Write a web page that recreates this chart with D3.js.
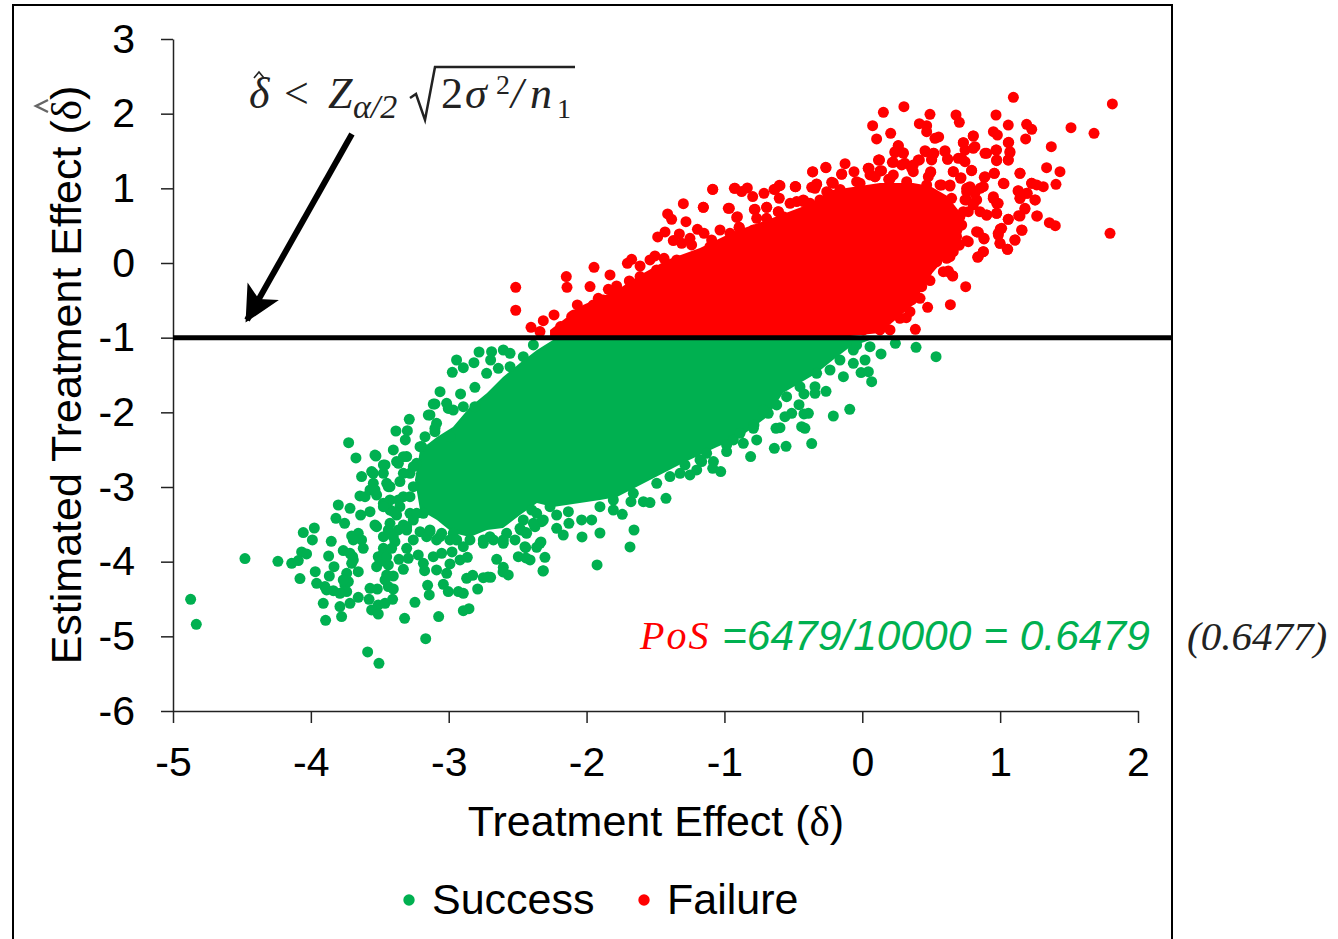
<!DOCTYPE html>
<html>
<head>
<meta charset="utf-8">
<script src="https://cdn.jsdelivr.net/npm/d3@7"></script>
<style>
  html, body { margin: 0; padding: 0; background: #fff; }
  svg { display: block; }
  .axis text { font-family: "Liberation Sans", sans-serif; font-size: 41px; fill: #000; }
  .axis path, .axis line { stroke: #222; stroke-width: 1.5px; }
  .label { font-family: "Liberation Sans", sans-serif; font-size: 43px; fill: #000; }
</style>
</head>
<body>
<svg></svg>
<script>
const svg_width = 1338;
const svg_height = 939;
const margin = { top: 39, right: 200, bottom: 228, left: 173 };

const xTicks = [-5, -4, -3, -2, -1, 0, 1, 2];
const yTicks = [3, 2, 1, 0, -1, -2, -3, -4, -5, -6];
const threshold = -1;

// single points that can still be told apart as [delta, estimate]
const successPoints = [
  [-4.872,-4.504],[-4.831,-4.839],[-4.478,-3.959],[-4.239,-3.995],[-4.139,-4.022],[-4.079,-4.227],[-4.055,-3.611],[-3.975,-3.549],
  [-3.989,-3.709],[-4.067,-3.870],[-4.031,-3.897],[-4.091,-3.986],[-3.852,-3.727],[-3.871,-3.924],[-3.832,-4.067],[-3.968,-4.134],
  [-3.866,-4.192],[-3.958,-4.290],[-3.898,-4.334],[-3.837,-4.388],[-3.910,-4.558],[-3.893,-4.785],[-3.789,-4.602],[-3.777,-4.736],
  [-3.753,-4.312],[-3.740,-4.401],[-3.728,-4.267],[-3.740,-4.156],[-3.656,-4.134],[-3.704,-4.022],[-3.697,-3.933],[-3.765,-3.852],
  [-3.620,-3.821],[-3.632,-3.709],[-3.704,-3.656],[-3.656,-3.620],[-3.801,-3.241],[-3.818,-3.419],[-3.755,-3.486],[-3.716,-3.285],
  [-3.639,-3.375],[-3.571,-3.330],[-3.644,-3.120],[-3.607,-3.129],[-3.726,-2.406],[-3.673,-2.611],[-3.632,-2.861],[-3.559,-2.794],
  [-3.528,-2.585],[-3.462,-2.705],[-3.474,-2.817],[-3.547,-2.951],[-3.523,-3.107],[-3.535,-3.509],[-3.474,-3.665],[-3.438,-3.575],
  [-3.366,-3.575],[-3.390,-3.732],[-3.474,-3.821],[-3.511,-3.933],[-3.523,-4.067],[-3.438,-4.044],[-3.450,-4.178],[-3.402,-4.192],
  [-3.438,-4.334],[-3.402,-4.366],[-3.571,-4.357],[-3.518,-4.366],[-3.656,-4.477],[-3.716,-4.558],[-3.578,-4.504],[-3.511,-4.580],
  [-3.462,-4.558],[-3.407,-4.504],[-3.559,-4.647],[-3.511,-4.701],[-3.320,-4.759],[-3.245,-4.544],[-3.073,-4.736],[-3.167,-5.031],
  [-3.588,-5.209],[-3.506,-5.361],[-2.894,-4.656],[-2.853,-4.629],[-3.153,-4.317],[-3.141,-4.446],[-3.039,-4.303],[-3.003,-4.401],
  [-2.930,-4.401],[-2.894,-4.424],[-2.790,-4.366],[-2.870,-4.223],[-2.826,-4.183],[-2.749,-4.214],[-2.696,-4.210],[-3.329,-4.102],
  [-3.361,-3.968],[-3.293,-3.955],[-3.305,-3.821],[-3.221,-3.910],[-3.175,-4.120],[-3.088,-4.111],[-3.112,-3.933],[-3.051,-3.888],
  [-2.976,-3.870],[-2.991,-4.031],[-3.015,-4.156],[-2.918,-3.977],[-2.865,-3.942],[-2.652,-3.968],[-2.604,-4.076],[-2.568,-4.178],
  [-2.495,-3.933],[-2.442,-3.812],[-2.440,-3.950],[-2.478,-3.575],[-2.439,-3.611],[-2.519,-3.709],[-2.604,-3.754],[-2.331,-3.736],
  [-2.362,-3.808],[-2.302,-3.942],[-2.314,-4.120],[-2.169,-3.643],[-2.217,-3.553],[-2.128,-3.486],[-2.326,-3.464],[-2.374,-3.531],
  [-3.286,-2.093],[-3.383,-2.250],[-3.300,-2.245],[-3.315,-2.370],[-3.402,-2.504],[-3.305,-2.593],[-3.378,-2.660],[-3.136,-2.035],
  [-3.100,-1.888],[-3.063,-1.723],[-2.914,-1.754],[-2.974,-1.464],[-2.894,-1.402],[-2.943,-1.299],[-2.817,-1.335],[-2.780,-1.192],
  [-2.689,-1.187],[-2.696,-1.299],[-2.604,-1.165],[-2.555,-1.210],[-2.725,-1.477],[-2.810,-1.665],[-3.100,-2.259],[-3.172,-2.326],
  [-3.426,-2.995],[-3.354,-2.928],[-3.281,-2.817],[-3.233,-2.683],[-3.196,-2.459],[-3.329,-3.129],[-3.426,-3.308],[-3.378,-3.375],
  [-3.257,-3.442],[-3.305,-3.531],[-3.208,-3.598],[-3.136,-3.598],[-3.257,-3.709],[-3.063,-3.665],[-2.967,-3.620],[-2.894,-3.799],
  [-2.749,-3.754],[-2.676,-3.709],[-3.015,-1.879],[-2.967,-1.969],[-3.088,-2.147],[-2.991,-2.326],[-2.894,-1.924],[-2.810,-1.924],
  [-2.640,-1.410],[-2.555,-1.388],[-2.459,-1.254],[-2.386,-1.098],
  [0.535,-1.254],[0.390,-1.129],[0.240,-1.076],[0.136,-1.218],[0.068,-1.589],[0.044,-1.455],[-0.009,-1.468],[0.020,-1.299],
  [0.056,-1.120],[-0.041,-1.098],[-0.065,-1.343],[-0.137,-1.522],[-0.091,-1.959],[-0.210,-2.049],[-0.263,-1.718],[-0.343,-1.656],
  [-0.343,-1.745],[-0.423,-1.754],[-0.459,-1.897],[-0.391,-2.013],[-0.423,-2.022],[-0.512,-2.013],[-0.561,-2.058],[-0.440,-2.192],
  [-0.416,-2.214],[-0.367,-2.419],[-0.553,-2.455],[-0.638,-2.482],[-0.597,-2.205],[-0.626,-2.214],[-0.810,-2.593],[-0.766,-2.370],
  [-0.786,-2.169],[-0.682,-2.013],[-0.863,-2.415],[-0.984,-2.526],[-1.080,-2.660],[-1.085,-2.750],[-1.027,-2.794],[-1.165,-2.660],
  [-1.201,-2.772],[-1.250,-2.839],[-1.286,-2.705],[-1.424,-3.151],[-1.540,-3.209],[-1.588,-3.196],[-1.678,-3.196],[-1.806,-3.308],
  [-1.741,-3.366],[-1.963,-3.441],[-2.036,-3.441],[-2.132,-3.330],[-2.217,-3.375],[-2.398,-3.308],[-1.685,-3.803],[-1.656,-3.576],
  [-1.903,-3.616],[-2.033,-3.669],[-1.924,-4.044],[-2.316,-4.125],[-2.410,-3.977],[-2.606,-4.138],[-2.715,-4.205],
  [-1.903,-3.263],[-1.806,-3.174],[-1.661,-3.084],[-1.491,-2.950],[-1.395,-2.861],[-1.322,-2.817],[-1.177,-2.638],[-1.129,-2.549],
  [-0.984,-2.437],[-0.935,-2.370],[-0.887,-2.281],[-0.790,-2.214],[-0.718,-1.968],[-0.621,-1.901],[-0.549,-1.790],[-0.452,-1.656],
  [-0.331,-1.477],[-0.234,-1.433],[-0.162,-1.299],[-0.065,-1.165],[-3.474,-3.888],[-3.499,-4.000],[-3.450,-3.933],[-3.414,-3.821],
  [-3.402,-3.665],[-3.329,-3.509],[-3.281,-3.352],[-3.354,-3.263],[-3.426,-3.174],[-3.474,-3.218],[-3.571,-3.040],[-3.450,-2.951],
  [-3.329,-2.817],[-3.257,-2.995],[-3.184,-3.352],[-3.160,-3.665],[-3.088,-3.709],[-2.991,-3.709],[-2.846,-3.709],[-2.701,-3.665],
  [-2.580,-3.620],[-2.459,-3.442],[-2.362,-3.352],[-2.265,-3.263],[-3.692,-3.709],[-3.716,-3.888],[-3.692,-3.977],[-3.765,-4.245],
  [-3.789,-4.424],[-3.886,-4.379],[-3.462,-4.245],[-3.184,-4.022],
  [-3.535,-2.572],[-3.474,-2.705],[-3.329,-2.594],[-3.365,-2.683],[-3.148,-2.036],[-3.112,-1.889],[-3.003,-1.947],[-3.100,-2.214],
  [-3.208,-2.460],[-3.257,-2.728],[-3.547,-2.817],[-3.535,-3.040],[-3.474,-3.263],[-3.402,-3.330],[-3.365,-3.174],[-3.438,-2.996],
  [-3.281,-3.130],[-3.232,-3.353],[-3.305,-3.576],[-3.426,-3.487],[-3.523,-3.531],[-3.136,-3.576],[-3.051,-3.621],[-2.942,-3.710],
  [-2.749,-3.710],[-2.604,-3.710],[-2.483,-3.554],[-2.435,-3.621],[-2.447,-3.799],[-2.338,-3.755],[-2.386,-3.487],[-2.314,-3.442]
];

const failurePoints = [
  [-2.514,-0.325],[-2.514,-0.633],[-2.403,-0.861],[-2.314,-0.772],[-2.236,-0.696],[-2.338,-0.919],[-2.188,-0.852],[-2.147,-0.182],
  [-2.142,-0.325],[-1.975,-0.316],[-1.946,-0.058],[-1.830,-0.160],[-2.067,-0.562],[-2.091,-0.696],[-2.036,-0.651],[-1.951,-0.562],
  [-1.915,-0.473],[-1.854,-0.540],[-1.842,-0.352],[-1.782,-0.308],[-1.794,-0.415],[-1.709,-0.406],[-1.690,-0.241],[-1.704,-0.004],
  [-1.673,0.050],[-1.612,-0.040],[-1.612,-0.182],[-1.540,0.041],[-1.504,0.094],[-1.438,0.063],[-1.484,0.349],[-1.431,0.416],
  [-1.412,0.657],[-1.383,0.585],[-1.298,0.795],[-1.279,0.554],[-1.327,0.389],[-1.371,0.300],[-1.310,0.264],[-1.250,0.331],
  [-1.238,0.242],[-1.153,0.746],[-1.196,0.451],[-1.148,0.398],[-1.093,0.309],[-1.105,0.219],[-1.177,0.108],[-1.085,0.987],
  [-0.972,0.733],[-0.923,1.000],[-0.875,0.956],[-0.834,1.005],[-0.795,0.889],[-0.713,0.933],[-0.778,0.719],[-0.694,0.746],
  [-0.906,0.621],[-0.892,0.478],[-1.032,0.442],[-0.960,0.398],[-0.766,0.599],[-0.633,0.987],[-0.602,1.041],[-0.602,0.867],
  [-0.486,1.023],[-0.609,0.688],[-0.524,0.800],[-0.428,0.822],[-0.360,1.219],[-0.343,1.023],[-0.210,1.067],[-0.246,0.934],
  [1.096,2.219],[1.814,2.130],[1.797,0.397],[1.514,1.813],[1.681,1.737],[0.302,2.094],[0.153,2.018],[0.075,1.839],
  [0.104,1.661],[0.206,1.737],[0.414,1.866],[0.491,1.991],[0.467,1.839],[0.467,1.759],[0.527,1.670],[0.554,1.688],
  [0.680,1.982],[0.704,1.884],[0.805,1.701],[0.733,1.612],[0.970,1.982],[1.059,1.848],[0.951,1.759],[0.980,1.714],
  [1.192,1.857],[1.229,1.790],[1.185,1.661],[1.062,1.616],[1.371,1.558],[1.071,1.491],[1.059,1.380],[0.975,1.380],
  [0.970,1.513],[0.902,1.469],[0.805,1.536],[0.721,1.402],[0.600,1.505],[0.619,1.393],[0.515,1.469],[0.455,1.505],
  [0.503,1.380],[0.261,1.572],[0.237,1.491],[0.298,1.469],[0.124,1.380],[0.225,1.348],[0.414,1.380],[-0.125,1.330],
  [-0.263,1.277],[-0.360,1.223],[-0.486,1.022],[-0.597,1.036],[-0.331,1.054],[-0.222,1.080],[-0.150,1.188],[-0.060,1.223],
  [0.049,1.268],[0.128,1.232],[0.191,1.121],[0.358,1.268],[0.496,1.214],[0.660,1.223],[0.716,1.143],[0.793,1.241],
  [0.890,1.156],[0.958,1.201],[1.144,1.201],[1.337,1.277],[1.434,1.223],[1.405,1.054],[1.028,1.063],[1.229,1.067],
  [1.313,1.022],[1.265,1.045],[1.130,0.964],[1.197,0.933],[1.144,0.866],[1.255,0.844],[1.180,0.723],[1.134,0.634],
  [1.270,0.630],[1.059,0.585],[1.357,0.540],[1.400,0.500],[1.159,0.438],[1.001,0.456],[0.987,0.375],[1.108,0.308],
  [0.999,0.264],[1.055,0.183],[0.878,0.152],[0.837,0.076],[0.883,0.322],[0.842,0.411],[0.902,0.643],[0.975,0.665],
  [0.975,0.799],[0.951,0.888],[0.854,1.000],[0.781,1.022],[0.757,0.844],[0.830,0.844],[0.769,0.286],[0.697,0.241],
  [0.624,-0.107],[0.656,-0.174],[0.750,-0.317],[0.639,-0.558],[0.474,-0.594],[0.319,-0.732],[0.385,-0.888],[0.491,-0.236],
  [0.431,-0.317],[0.358,-0.495],[0.201,-0.897],[0.588,-0.116],[0.636,0.197],
  [-2.108,-0.718],[-2.023,-0.718],[-1.878,-0.495],[-1.758,-0.428],[-1.564,-0.227],[-1.492,-0.093],[-1.419,-0.049],[-1.346,0.041],
  [-1.274,0.041],[-1.201,0.085],[-1.129,0.130],[-1.056,0.152],[-0.984,0.264],[-0.935,0.353],[-0.863,0.398],[-0.790,0.442],
  [-0.694,0.599],[-0.573,0.621],[-0.452,0.643],[-0.379,0.800],[-0.307,0.844],[-0.331,0.666],[-0.476,0.822],[-0.428,0.844],
  [-0.343,1.000],[-0.258,0.955],[-0.162,0.955],[-0.041,1.089],[0.056,1.179],[0.225,1.179],[0.286,1.313],[0.370,1.313],
  [0.322,1.089],[0.467,1.045],[0.564,1.045],[0.636,1.045],[0.648,0.866],[0.733,0.688],[0.757,0.955],[0.854,0.688],
  [0.660,0.598],[0.721,0.509],[0.612,0.420],[0.660,0.152],[0.540,0.018],[0.467,-0.116],[0.612,0.063],[0.419,-0.473],
  [0.346,-0.652],[0.273,-0.741],[0.128,-0.897],[0.008,-0.897],[-0.065,-0.830],
  [0.261,1.567],[0.237,1.477],[0.297,1.477],[0.218,1.348],[0.123,1.379],[0.043,1.268],[0.140,1.236],[0.092,1.156],
  [0.201,1.125],[0.309,1.335],[0.406,1.379],[0.370,1.223],[0.496,1.223],[0.479,1.156],[0.459,1.491],[0.520,1.469],
  [0.503,1.388],[0.600,1.491],[0.619,1.388],[0.733,1.611],[0.805,1.701],[0.817,1.558],[0.745,1.513],[0.696,1.402],
  [0.745,1.357],[0.660,1.223],[0.713,1.134],[0.793,1.236],[0.890,1.469],[0.974,1.513],[1.059,1.611],[1.071,1.477],
  [1.059,1.379],[0.974,1.370],[0.957,1.201],[0.885,1.147],[1.144,1.201],[1.023,1.067],[0.575,1.044],[0.636,1.031],
  [0.757,1.000],[0.878,1.022],[0.817,0.933],[0.745,0.844],[0.950,0.866],[0.986,0.799],[0.805,0.777],[0.902,0.643],
  [0.974,0.665],[0.769,0.687],[0.708,0.620],[1.132,0.969],[1.228,1.067],[1.192,0.933],[1.144,0.866],[1.252,0.844],
  [1.180,0.732],[1.144,0.629],[1.059,0.585],[1.265,0.629],[1.011,0.464],[0.986,0.397],[1.156,0.442],[0.999,0.263],
  [1.107,0.308],[1.052,0.183],[0.829,0.419],[0.883,0.330],[0.841,0.085],[0.878,0.152],[0.757,0.299],[0.704,0.241],
  [0.624,-0.116],[0.655,-0.170],[0.636,0.085],[0.684,0.352],
  [-1.085,0.986],[-1.153,0.745],[-0.928,1.000],[-0.964,0.732],[-0.911,0.611],[-0.894,0.477],[-0.783,0.718],[-0.693,0.745],
  [-0.640,0.986],[-0.609,0.687],[-0.483,1.022],[-0.423,0.834],[-0.265,1.281],[-0.149,1.192],[0.044,1.267],[0.117,1.379],
  [-0.367,1.013],[-0.331,1.058],[-0.215,1.076],[-0.161,0.986],[-0.016,1.067],[0.093,1.156],[-0.065,0.933]
];

// the centre of each cloud is solid colour, single points cannot be read there,
// so only its outer edge is kept: [delta, lower estimate, upper estimate]
const successCore = [
  [-3.245,-2.906,-2.906],[-3.208,-3.308,-2.504],[-3.085,-3.442,-2.330],[-2.969,-3.616,-2.196],[-2.846,-3.669,-1.928],
  [-2.722,-3.576,-1.741],[-2.606,-3.549,-1.527],[-2.483,-3.375,-1.339],[-2.360,-3.214,-1.165],[-2.244,-3.268,-1.031],
  [-1.903,-3.174,-1.031],[-1.779,-3.134,-1.031],[-1.540,-2.906,-1.031],[-1.301,-2.678,-1.031],[-1.054,-2.464,-1.031],
  [-0.887,-2.330,-1.031],[-0.691,-2.062,-1.031],[-0.575,-1.741,-1.031],[-0.329,-1.473,-1.031],[-0.213,-1.299,-1.031],
  [-0.089,-1.125,-1.031],[0.056,-1.031,-1.031]
];
const failureCore = [
  [-2.265,-1,-0.897],[-2.026,-1,-0.562],[-1.779,-1,-0.361],[-1.612,-1,-0.160],[-1.417,-1,0.040],[-1.177,-1,0.201],
  [-0.938,-1,0.415],[-0.691,-1,0.576],[-0.401,-1,0.777],[-0.213,-1,0.978],[0.128,-0.937,1.070],[0.368,-0.562,1.070],
  [0.491,-0.170,1.030],[0.614,0.090,0.900],[0.700,0.300,0.700],[0.740,0.500,0.500]
];

const green = "#00B050";
const red = "#FF0000";
const dotRadius = 5.5;

const root = d3.select("svg")
    .attr("width", svg_width)
    .attr("height", svg_height);

// outer frame, runs off the bottom of the page
root.append("rect")
    .attr("x", 13).attr("y", 5)
    .attr("width", 1159).attr("height", 960)
    .attr("fill", "none")
    .attr("stroke", "#000")
    .attr("stroke-width", 2);

const svg = root.append("g")
    .attr("transform", `translate(${margin.left}, ${margin.top})`);

const xScale = d3.scaleLinear().domain([-5, 2]).range([0, 965]);
const yScale = d3.scaleLinear().domain([3, -6]).range([0, 672]);

svg.append("g")
    .attr("class", "axis")
    .attr("transform", "translate(0, 672)")
    .call(d3.axisBottom(xScale).tickValues(xTicks).tickFormat(d => String(d)).tickSize(12).tickPadding(24).tickSizeOuter(0));

svg.append("g")
    .attr("class", "axis")
    .call(d3.axisLeft(yScale).tickValues(yTicks).tickFormat(d => String(d)).tickSize(12).tickPadding(26).tickSizeOuter(0));

function drawCloud(core, points, color) {
    const area = d3.area()
        .x(d => xScale(d[0]))
        .y0(d => yScale(d[1]))
        .y1(d => yScale(d[2]));
    svg.append("path")
        .datum(core)
        .attr("d", area)
        .attr("fill", color);
    svg.append("g").selectAll("circle")
        .data(points)
        .enter()
        .append("circle")
        .attr("cx", d => xScale(d[0]))
        .attr("cy", d => yScale(d[1]))
        .attr("r", dotRadius)
        .attr("fill", color);
}
drawCloud(successCore, successPoints, green);
drawCloud(failureCore, failurePoints, red);

// threshold runs on to the frame
svg.append("line")
    .attr("x1", xScale(-5)).attr("x2", 999)
    .attr("y1", yScale(threshold)).attr("y2", yScale(threshold))
    .attr("stroke", "#000")
    .attr("stroke-width", 5);

// arrow
root.append("defs").append("marker")
    .attr("id", "stealth")
    .attr("viewBox", "0 0 12 12")
    .attr("refX", 11).attr("refY", 6)
    .attr("markerWidth", 6).attr("markerHeight", 6)
    .attr("markerUnits", "strokeWidth")
    .attr("orient", "auto")
    .append("path")
    .attr("d", "M0,0 L12,6 L0,12 L3,6 Z")
    .attr("fill", "#000");

svg.append("line")
    .attr("x1", xScale(-3.702)).attr("y1", yScale(1.728))
    .attr("x2", xScale(-4.463)).attr("y2", yScale(-0.763))
    .attr("stroke", "#000")
    .attr("stroke-width", 6)
    .attr("marker-end", "url(#stealth)");

// axis titles
const serif = "'Liberation Serif', 'DejaVu Serif', serif";
const xTitle = root.append("text")
    .attr("class", "label")
    .attr("x", 656).attr("y", 836)
    .attr("text-anchor", "middle");
xTitle.append("tspan").text("Treatment Effect (");
xTitle.append("tspan").attr("font-family", serif).text("δ");
xTitle.append("tspan").text(")");

const yTitle = root.append("text")
    .attr("class", "label")
    .attr("transform", "translate(81, 375) rotate(-90)")
    .attr("text-anchor", "middle");
yTitle.append("tspan").text("Estimated Treatment Effect (");
yTitle.append("tspan").attr("font-family", serif).text("δ");
yTitle.append("tspan").text(")");

// hat over the delta of the y title
root.append("path")
    .attr("d", "M48,100 L36,106 L48,112")
    .attr("fill", "none")
    .attr("stroke", "#666")
    .attr("stroke-width", 2.5);

// formula, pieces placed one by one like the equation editor does
function formulaPiece(x, y, size, italic, str) {
    root.append("text")
        .attr("x", x).attr("y", y)
        .attr("font-family", serif)
        .attr("font-style", italic ? "italic" : "normal")
        .attr("font-size", size)
        .attr("fill", "#222")
        .text(str);
}
formulaPiece(249, 108, 44, true, "δ");
formulaPiece(284, 108, 44, false, "<");
formulaPiece(328, 108, 44, true, "Z");
formulaPiece(353, 118, 34, true, "α/2");
formulaPiece(441, 108, 44, false, "2");
formulaPiece(465, 108, 44, true, "σ");
formulaPiece(496, 94, 28, false, "2");
formulaPiece(511, 108, 44, true, "/");
formulaPiece(530, 108, 44, true, "n");
formulaPiece(557, 118, 28, false, "1");

// hat over the formula's delta
root.append("path")
    .attr("d", "M254,78 L259,72 L264,78")
    .attr("fill", "none")
    .attr("stroke", "#222")
    .attr("stroke-width", 1.6);

root.append("path")
    .attr("d", "M410,98 L416,94 L425,120 L435,67 L575,67")
    .attr("fill", "none")
    .attr("stroke", "#222")
    .attr("stroke-width", 2.5);

// probability of success note
root.append("text")
    .attr("x", 640).attr("y", 649)
    .attr("font-family", serif)
    .attr("font-style", "italic")
    .attr("font-size", 40)
    .attr("letter-spacing", 2)
    .attr("fill", red)
    .text("PoS");

root.append("text")
    .attr("x", 722).attr("y", 650)
    .attr("font-family", "'Liberation Sans', sans-serif")
    .attr("font-style", "italic")
    .attr("font-size", 42.5)
    .attr("fill", green)
    .text("=6479/10000 = 0.6479");

root.append("text")
    .attr("x", 1187).attr("y", 650)
    .attr("font-family", serif)
    .attr("font-style", "italic")
    .attr("font-size", 41)
    .attr("fill", "#222")
    .text("(0.6477)");

// legend
const legendItems = ["Success", "Failure"];
const legendColors = [green, red];
const legendX = [409, 644];
legendItems.forEach((name, i) => {
    root.append("circle")
        .attr("cx", legendX[i]).attr("cy", 900)
        .attr("r", 5.7)
        .attr("fill", legendColors[i]);
    root.append("text")
        .attr("class", "label")
        .attr("x", legendX[i] + 23).attr("y", 914)
        .text(name);
});
</script>
</body>
</html>
